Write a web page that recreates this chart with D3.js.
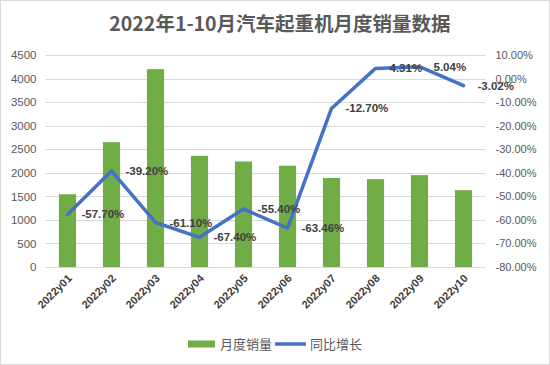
<!DOCTYPE html>
<html lang="zh">
<head>
<meta charset="UTF-8">
<title>2022年1-10月汽车起重机月度销量数据</title>
<script src="https://cdn.jsdelivr.net/npm/d3@7"></script>
<style>
    body { margin: 0; background: #fff; }
    text { font-family: "Liberation Sans", Arial, sans-serif; }
</style>
</head>
<body>
<div id="output"></div>
<script>

var months = ["2022y01", "2022y02", "2022y03", "2022y04", "2022y05",
              "2022y06", "2022y07", "2022y08", "2022y09", "2022y10"];
var sales = [1545, 2650, 4200, 2360, 2240, 2150, 1890, 1865, 1950, 1630];
var growth = [-57.70, -39.20, -61.10, -67.40, -55.40, -63.46, -12.70, 4.31, 5.04, -3.02];
var growthLabels = ["-57.70%", "-39.20%", "-61.10%", "-67.40%", "-55.40%",
                    "-63.46%", "-12.70%", "4.31%", "5.04%", "-3.02%"];
var leftTicks = [0, 500, 1000, 1500, 2000, 2500, 3000, 3500, 4000, 4500];
var rightTicks = [-80, -70, -60, -50, -40, -30, -20, -10, 0, 10];

var w = 550, h = 365;
// note: "top" is taken by window.top, so plot edges get their own names
var plotLeft = 45.5, plotRight = 485.5, plotTop = 55, plotBottom = 267;

var svg = d3.select("#output").append("svg")
    .attr("width", w)
    .attr("height", h);

svg.append("rect")
    .attr("x", 0.5).attr("y", 0.5)
    .attr("width", w - 1).attr("height", h - 1)
    .attr("fill", "#fff")
    .attr("stroke", "#d9d9d9");

var xScale = d3.scaleBand()
    .domain(months)
    .range([plotLeft, plotRight])
    .paddingInner(0.61)
    .paddingOuter(0.305);

var yScale = d3.scaleLinear().domain([0, 4500]).range([plotBottom, plotTop]);
var y2Scale = d3.scaleLinear().domain([-80, 10]).range([plotBottom, plotTop]);

function cx(d) { return xScale(d) + xScale.bandwidth() / 2; }

// grid
svg.append("g").selectAll("line")
    .data(leftTicks)
    .enter().append("line")
    .attr("x1", plotLeft).attr("x2", plotRight)
    .attr("y1", function(d){ return Math.round(yScale(d)) + 0.5; })
    .attr("y2", function(d){ return Math.round(yScale(d)) + 0.5; })
    .attr("stroke", "#d9d9d9")
    .attr("stroke-width", 1);

// left axis
var yAxis = svg.append("g")
    .attr("transform", "translate(" + (plotLeft - 9) + ",0)")
    .call(d3.axisLeft(yScale).tickValues(leftTicks).tickSize(0).tickPadding(0)
        .tickFormat(d3.format("d")));
yAxis.select(".domain").remove();
yAxis.selectAll("text")
    .attr("fill", "#595959")
    .style("font-size", "11.5px");

// right axis
var y2Axis = svg.append("g")
    .attr("transform", "translate(" + (plotRight + 10) + ",0)")
    .call(d3.axisRight(y2Scale).tickValues(rightTicks).tickSize(0).tickPadding(0)
        .tickFormat(function(d){ return d.toFixed(2) + "%"; }));
y2Axis.select(".domain").remove();
y2Axis.selectAll("text")
    .attr("fill", "#595959")
    .style("font-size", "11px");

// bars
svg.append("g").selectAll("rect")
    .data(months)
    .enter().append("rect")
    .attr("x", function(d){ return xScale(d); })
    .attr("width", xScale.bandwidth())
    .attr("y", function(d, i){ return yScale(sales[i]); })
    .attr("height", function(d, i){ return yScale(0) - yScale(sales[i]); })
    .attr("fill", "#70ad47");

// x labels
svg.append("g").selectAll("text")
    .data(months)
    .enter().append("text")
    .attr("transform", function(d){ return "translate(" + (cx(d) + 5) + "," + (plotBottom + 12) + ") rotate(-45)"; })
    .attr("text-anchor", "end")
    .attr("fill", "#404040")
    .style("font-size", "11px")
    .style("font-weight", "bold")
    .text(function(d){ return d; });

// line
var line = d3.line()
    .x(function(d, i){ return cx(months[i]); })
    .y(function(d){ return y2Scale(d); });

svg.append("path")
    .datum(growth)
    .attr("d", line)
    .attr("fill", "none")
    .attr("stroke", "#4472c4")
    .attr("stroke-width", 3.5)
    .attr("stroke-linejoin", "round")
    .attr("stroke-linecap", "round");

svg.append("g").selectAll("text")
    .data(growth)
    .enter().append("text")
    .attr("x", function(d, i){ return cx(months[i]) + 14; })
    .attr("y", function(d){ return y2Scale(d); })
    .attr("dy", "0.35em")
    .attr("fill", "#404040")
    .style("font-size", "11.5px")
    .style("font-weight", "bold")
    .text(function(d, i){ return growthLabels[i]; });

// title
svg.append("text")
    .attr("x", 280)
    .attr("y", 31)
    .attr("text-anchor", "middle")
    .attr("fill", "#595959")
    .style("font-family", "'Noto Sans CJK SC', sans-serif")
    .style("font-size", "19.5px")
    .style("font-weight", "bold")
    .text("2022年1-10月汽车起重机月度销量数据");

// legend
var legend = svg.append("g").attr("transform", "translate(0,344)");
legend.append("rect")
    .attr("x", 188).attr("y", -3.5)
    .attr("width", 27).attr("height", 7)
    .attr("fill", "#70ad47");
legend.append("text")
    .attr("x", 220).attr("y", 0).attr("dy", "0.35em")
    .attr("fill", "#595959")
    .style("font-family", "'Noto Sans CJK SC', sans-serif")
    .style("font-size", "13px")
    .text("月度销量");
legend.append("line")
    .attr("x1", 275).attr("x2", 306)
    .attr("y1", 0).attr("y2", 0)
    .attr("stroke", "#4472c4")
    .attr("stroke-width", 3.5);
legend.append("text")
    .attr("x", 310).attr("y", 0).attr("dy", "0.35em")
    .attr("fill", "#595959")
    .style("font-family", "'Noto Sans CJK SC', sans-serif")
    .style("font-size", "13px")
    .text("同比增长");

</script>
</body>
</html>
